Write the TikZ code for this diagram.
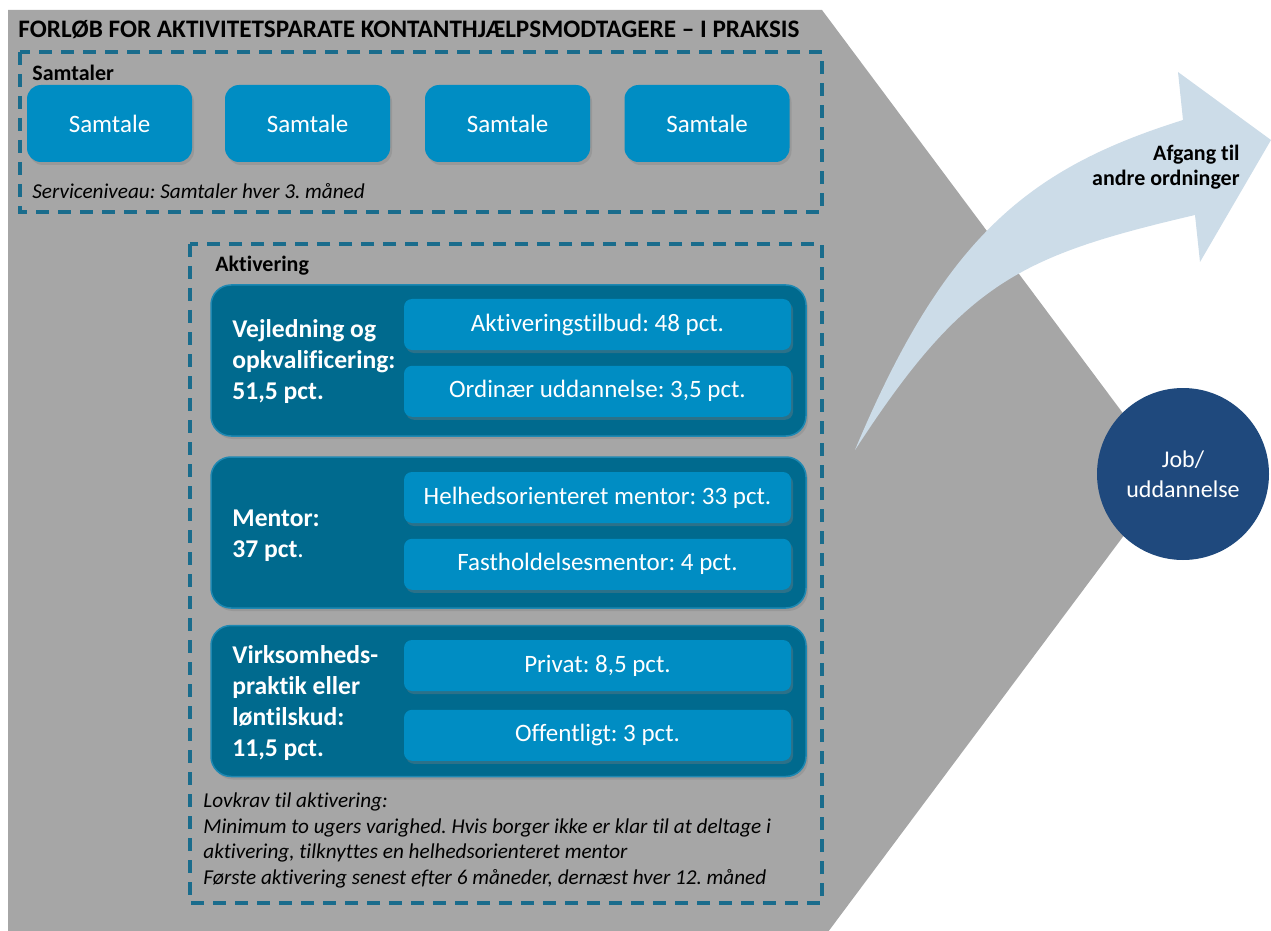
\documentclass[tikz,border=0pt]{standalone}
\usepackage{fontspec}
\setmainfont{Carlito}[Ligatures=NoCommon]
\usetikzlibrary{shadows,positioning}
\frenchspacing

\definecolor{chevrongray}{RGB}{166,166,166}
\definecolor{frameblue}{RGB}{26,108,140}
\definecolor{boxblue}{RGB}{0,141,195}
\definecolor{groupblue}{RGB}{0,106,142}
\definecolor{groupedge}{RGB}{30,136,178}
\definecolor{arrowblue}{RGB}{204,220,232}
\definecolor{jobblue}{RGB}{31,73,125}

\begin{document}
\begin{tikzpicture}
  [
    x = 0.5pt, y = -0.5pt,
    dashed frame/.style = {draw=frameblue, line width=2pt, dash pattern=on 6.5pt off 4.5pt},
    frame head/.style = {anchor=west, inner sep=0pt, font=\fontsize{11}{13}\selectfont\bfseries},
    soft shadow/.style = {drop shadow={shadow xshift=1pt, shadow yshift=-1.5pt, opacity=.35}},
    samtale box/.style = {fill=boxblue, rounded corners=7pt, minimum width=82.5pt, minimum height=38.5pt,
                          text=white, font=\fontsize{12.5}{15}\selectfont, soft shadow},
    group box/.style = {fill=groupblue, draw=groupedge, line width=0.75pt, rounded corners=10pt,
                        minimum width=297.5pt, minimum height=75.5pt, soft shadow},
    sub box/.style = {fill=boxblue, rounded corners=4pt, minimum width=193.5pt, minimum height=25.5pt,
                      text=white, font=\fontsize{12.5}{15}\selectfont, soft shadow},
    group label/.style = {anchor=west, align=left, inner sep=0pt, text=white,
                          font=\fontsize{12.8}{15.5}\selectfont\bfseries},
    note/.style = {anchor=west, align=left, inner sep=0pt, font=\fontsize{10.6}{12.85}\selectfont\itshape},
  ]

  \clip (0,0) rectangle (1271,931);

  % background chevron
  \fill[chevrongray] (8,10) -- (822,10) -- (1169,475) -- (822,940) -- (8,940) -- cycle;

  \node[anchor=west, inner sep=0pt, font=\fontsize{12.6}{15}\selectfont\bfseries] (title) at (18,30)
    {FORLØB FOR AKTIVITETSPARATE KONTANTHJÆLPSMODTAGERE – I PRAKSIS};

  % samtaler
  \draw[dashed frame] (20,52) rectangle (822,212);
  \node[frame head] (samtaler) at (32,73) {Samtaler};
  \node[samtale box] (s1) at (109.5,123.5) {Samtale};
  \node[samtale box] (s2) at (307.5,123.5) {Samtale};
  \node[samtale box] (s3) at (507.5,123.5) {Samtale};
  \node[samtale box] (s4) at (707,123.5)   {Samtale};
  \node[note] (service) at (32,191) {Serviceniveau: Samtaler hver 3. måned};

  % aktivering
  \draw[dashed frame] (190,244) rectangle (822,903);
  \node[frame head] (aktivering) at (215,266) {Aktivering};

  \node[group box] (g1) at (508.5,360.5) {};
  \node[sub box] (a1) at (597.5,324.5) {Aktiveringstilbud: 48 pct.};
  \node[sub box, below=7.5pt of a1] (a2) {Ordinær uddannelse: 3,5 pct.};
  \node[group label] (l1) at (232,362) {Vejledning og\\opkvalificering:\\51,5 pct.};

  \node[group box] (g2) at (508.5,532.5) {};
  \node[sub box] (m1) at (597.5,497.5) {Helhedsorienteret mentor: 33 pct.};
  \node[sub box, below=7.5pt of m1] (m2) {Fastholdelsesmentor: 4 pct.};
  \node[group label] (l2) at (232,535.5) {Mentor:\\37 pct\textmd{.}};

  \node[group box] (g3) at (508.5,701) {};
  \node[sub box] (v1) at (597.5,665.5) {Privat: 8,5 pct.};
  \node[sub box, below=9pt of v1] (v2) {Offentligt: 3 pct.};
  \node[group label] (l3) at (232,703) {Virksomheds-\\praktik eller\\løntilskud:\\11,5 pct.};

  \node[note] (lovkrav) at (203,840.5)
    {Lovkrav til aktivering:\\
     Minimum to ugers varighed. Hvis borger ikke er klar til at deltage i\\
     aktivering, tilknyttes en helhedsorienteret mentor\\
     Første aktivering senest efter 6 måneder, dernæst hver 12. måned};

  % afgang arrow
  \fill[arrowblue] (855,450) .. controls (945,235) and (1030,168) .. (1183,120)
    -- (1178,72) -- (1271,140) -- (1200,262) -- (1195,215)
    .. controls (1020,256) and (964,282) .. (855,450) -- cycle;
  \node[anchor=east, align=right, inner sep=0pt, font=\fontsize{11}{12.5}\selectfont\bfseries] (afgang)
    at (1240,167) {Afgang til\\andre ordninger};

  \node[circle, fill=jobblue, minimum size=86pt, text=white, align=center,
        font=\fontsize{12}{15}\selectfont] (job) at (1183,474) {Job/\\uddannelse};

\end{tikzpicture}
\end{document}
